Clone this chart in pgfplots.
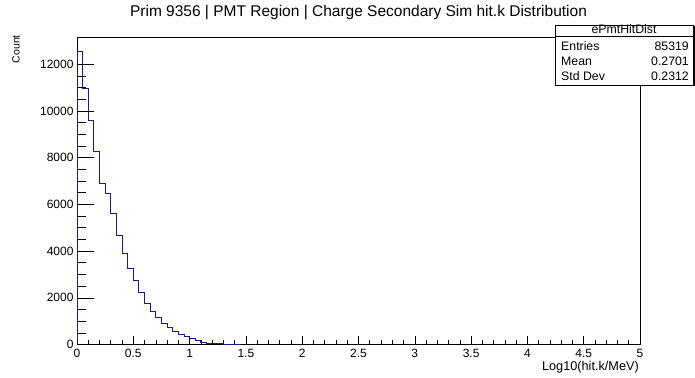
\documentclass[border=0pt]{standalone}
\usepackage{fontspec}
\setmainfont{Liberation Sans}
\usepackage{pgfplots}
\pgfplotsset{compat=1.18}
\definecolor{histblue}{RGB}{25,25,150}
\pgfplotstableread{
x y
0.00 0
0.00 12540
0.05 10950
0.10 9600
0.15 8280
0.20 6880
0.25 6480
0.30 5600
0.35 4670
0.40 3880
0.45 3250
0.50 2740
0.55 2210
0.60 1770
0.65 1410
0.70 1140
0.75 900
0.80 710
0.85 540
0.90 450
0.95 340
1.00 250
1.05 160
1.10 100
1.15 55
1.20 35
1.25 25
1.30 15
1.35 10
1.40 5
1.45 0
}\histdata
\begin{document}
\begin{tikzpicture}[x=1pt,y=1pt]
\useasboundingbox (0,0) rectangle (695,377);
\fill[white] (0,0) rectangle (695,377);
\pgfplotsset{myax/.style={at={(77pt,32.5pt)},anchor=south west, scale only axis,
  width=563pt, height=307.5pt, xmin=0, xmax=5, ymin=0, ymax=13170,
  tick pos=left, tick align=inside, scaled y ticks=false, scaled x ticks=false,
  /pgf/number format/assume math mode=true, /pgf/number format/1000 sep={},
  tick label style={font=\fontsize{12}{14}\selectfont},
  every tick/.style={black, line width=0.6pt}, axis line style={line width=0.6pt}}}
\begin{axis}[myax, xtick={0,0.5,...,5}, minor x tick num=4,
  ytick={0,2000,...,12000}, ytick style={draw=none},
  major tick length=8.5pt, minor tick length=4.3pt,
  yticklabel style={xshift=0pt}, xticklabel style={yshift=-1pt}]
\addplot[const plot, histblue, line width=0.9pt] table[x=x,y=y]{\histdata};
\end{axis}
\begin{axis}[myax, axis line style={draw=none}, xtick=\empty,
  ytick={0,2000,...,12000}, yticklabels={}, minor y tick num=3,
  major tick length=17pt, minor tick length=8.5pt]
\end{axis}
\node[anchor=base, font=\fontsize{15.5}{17}\selectfont] at (358.5,360) {Prim 9356 | PMT Region | Charge Secondary Sim hit.k Distribution};
\node[anchor=base east, font=\fontsize{12.7}{14}\selectfont, inner sep=0pt] at (639,6) {Log10(hit.k/MeV)};
\node[anchor=base east, rotate=90, font=\fontsize{10.5}{12}\selectfont, inner sep=0pt] at (19.5,342) {Count};
% stats box
\fill[black] (556.5,290.5) rectangle (694.5,350.5);
\filldraw[fill=white, draw=black, line width=0.6pt] (555,292) rectangle (693,352);
\draw[line width=0.6pt] (555,340.3) -- (693,340.3);
\begin{scope}[font=\fontsize{12.3}{14}\selectfont]
\node[anchor=base, inner sep=0pt] at (624,343.5) {ePmtHitDist};
\node[anchor=base west, inner sep=0pt] at (561,326.3) {Entries};
\node[anchor=base east, inner sep=0pt] at (689,326.3) {85319};
\node[anchor=base west, inner sep=0pt] at (561,311.3) {Mean};
\node[anchor=base east, inner sep=0pt] at (689,311.3) {0.2701};
\node[anchor=base west, inner sep=0pt] at (561,296) {Std Dev};
\node[anchor=base east, inner sep=0pt] at (689,296) {0.2312};
\end{scope}
\end{tikzpicture}
\end{document}
